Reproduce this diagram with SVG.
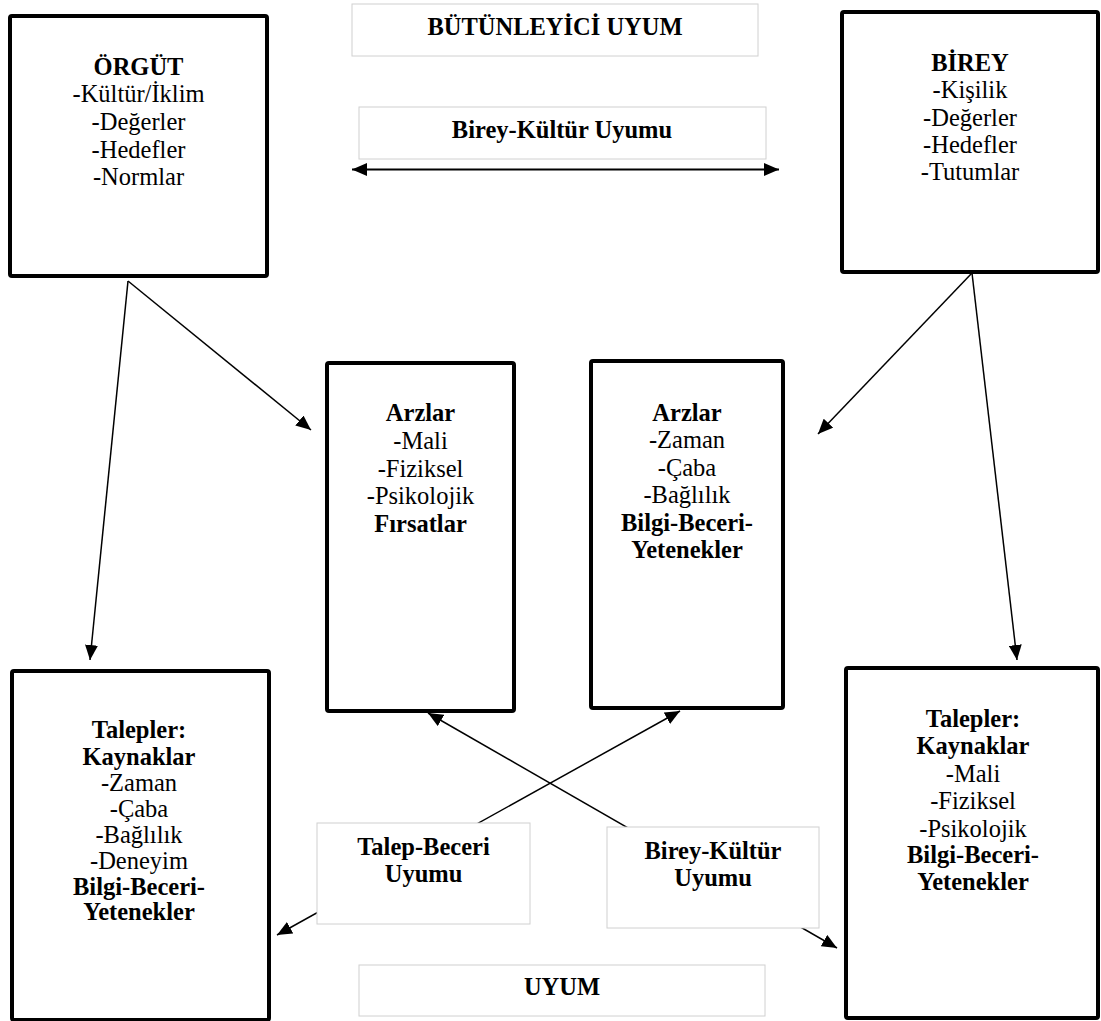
<svg xmlns="http://www.w3.org/2000/svg" width="1101" height="1021" viewBox="0 0 1101 1021">
  <style>
    .box { fill: #fff; stroke: #000; stroke-width: 4; }
    .label { fill: #fff; stroke: #d0d0d0; stroke-width: 1; }
    text { font-family: "Liberation Serif", "Times New Roman", serif; font-size: 24.5px; fill: #000; text-anchor: middle; }
    .b { font-weight: bold; }
    .conn { stroke: #000; stroke-width: 1.5; fill: none; }
  </style>
  <defs>
    <marker id="head" viewBox="0 0 15 13" refX="15" refY="6.5" markerWidth="15" markerHeight="13" markerUnits="userSpaceOnUse" orient="auto-start-reverse">
      <path d="M0,0 L15,6.5 L0,13 Z" fill="#000"/>
    </marker>
  </defs>

  <rect width="1101" height="1021" fill="#fff"/>

  <!-- connectors (drawn first so the label boxes sit on top of them) -->
  <g id="connectors">
    <line class="conn" x1="128" y1="281" x2="90" y2="660" marker-end="url(#head)"/>
    <line class="conn" x1="128" y1="281" x2="311" y2="430" marker-end="url(#head)"/>
    <line class="conn" x1="972" y1="273" x2="818" y2="434" marker-end="url(#head)"/>
    <line class="conn" x1="972" y1="273" x2="1017" y2="660" marker-end="url(#head)"/>
    <line x1="352" y1="169.5" x2="779" y2="169.5" stroke="#000" stroke-width="2" marker-start="url(#head)" marker-end="url(#head)"/>
    <line class="conn" x1="428" y1="713" x2="837" y2="948" marker-start="url(#head)" marker-end="url(#head)"/>
    <line class="conn" x1="680" y1="711" x2="277" y2="935" marker-start="url(#head)" marker-end="url(#head)"/>
  </g>

  <g id="butunleyici-uyum">
    <rect class="label" x="352" y="4" width="406" height="52"/>
    <text class="b" x="555" y="35">BÜTÜNLEYİCİ UYUM</text>
  </g>

  <g id="birey-kultur-uyumu-top">
    <rect class="label" x="359" y="107" width="407" height="52"/>
    <text class="b" x="562" y="137.5">Birey-Kültür Uyumu</text>
  </g>

  <g id="orgut">
    <rect class="box" x="10" y="16" width="257" height="260" rx="2"/>
    <text class="b" x="138.5" y="75">ÖRGÜT</text>
    <text x="138.5" y="102">-Kültür/İklim</text>
    <text x="138.5" y="130">-Değerler</text>
    <text x="138.5" y="157.5">-Hedefler</text>
    <text x="138.5" y="185">-Normlar</text>
  </g>

  <g id="birey">
    <rect class="box" x="842" y="12" width="256" height="260" rx="2"/>
    <text class="b" x="970" y="71">BİREY</text>
    <text x="970" y="98">-Kişilik</text>
    <text x="970" y="125.5">-Değerler</text>
    <text x="970" y="153">-Hedefler</text>
    <text x="970" y="180">-Tutumlar</text>
  </g>

  <g id="arzlar-orgut">
    <rect class="box" x="327" y="363" width="187" height="348" rx="2"/>
    <text class="b" x="420.5" y="421">Arzlar</text>
    <text x="420.5" y="449">-Mali</text>
    <text x="420.5" y="477">-Fiziksel</text>
    <text x="420.5" y="504">-Psikolojik</text>
    <text class="b" x="420.5" y="532">Fırsatlar</text>
  </g>

  <g id="arzlar-birey">
    <rect class="box" x="591" y="361" width="192" height="347" rx="2"/>
    <text class="b" x="687" y="421">Arzlar</text>
    <text x="687" y="448">-Zaman</text>
    <text x="687" y="476">-Çaba</text>
    <text x="687" y="503">-Bağlılık</text>
    <text class="b" x="687" y="531">Bilgi-Beceri-</text>
    <text class="b" x="687" y="558">Yetenekler</text>
  </g>

  <g id="talepler-orgut">
    <rect class="box" x="12" y="671" width="257" height="349" rx="2"/>
    <text class="b" x="139" y="738">Talepler:</text>
    <text class="b" x="139" y="765">Kaynaklar</text>
    <text x="139" y="791">-Zaman</text>
    <text x="139" y="817">-Çaba</text>
    <text x="139" y="843">-Bağlılık</text>
    <text x="139" y="868.5">-Deneyim</text>
    <text class="b" x="139" y="895">Bilgi-Beceri-</text>
    <text class="b" x="139" y="920">Yetenekler</text>
  </g>

  <g id="talepler-birey">
    <rect class="box" x="846" y="668" width="252" height="350" rx="2"/>
    <text class="b" x="973" y="727">Talepler:</text>
    <text class="b" x="973" y="754">Kaynaklar</text>
    <text x="973" y="782">-Mali</text>
    <text x="973" y="809">-Fiziksel</text>
    <text x="973" y="836.5">-Psikolojik</text>
    <text class="b" x="973" y="863">Bilgi-Beceri-</text>
    <text class="b" x="973" y="890">Yetenekler</text>
  </g>

  <g id="talep-beceri-uyumu">
    <rect class="label" x="317" y="823" width="213" height="101"/>
    <text class="b" x="423.5" y="855">Talep-Beceri</text>
    <text class="b" x="423.5" y="882">Uyumu</text>
  </g>

  <g id="birey-kultur-uyumu-bottom">
    <rect class="label" x="607" y="827" width="212" height="101"/>
    <text class="b" x="713" y="859">Birey-Kültür</text>
    <text class="b" x="713" y="886">Uyumu</text>
  </g>

  <g id="uyum">
    <rect class="label" x="359" y="965" width="406" height="51"/>
    <text class="b" x="562" y="995">UYUM</text>
  </g>
</svg>
